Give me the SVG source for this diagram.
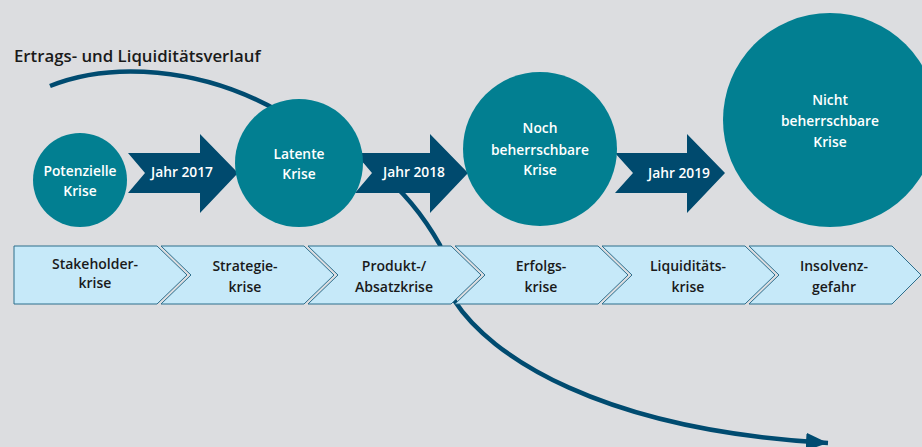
<svg xmlns="http://www.w3.org/2000/svg" width="922" height="447" viewBox="0 0 922 447">
<defs>
<marker id="ah" markerUnits="userSpaceOnUse" markerWidth="24" markerHeight="18" refX="22" refY="9" orient="auto">
<path d="M0,0 L22,9 L0,18 Z" fill="#004b70"/>
</marker>
<style>
.bg{fill:#dcdde0}
.circ{fill:#027f91}
.arr{fill:#004a6e}
.chev{fill:#c6e9f9;stroke:#2d6e8c;stroke-width:1}
.curve{fill:none;stroke:#004b70;stroke-width:4.5}
.wt{fill:#ffffff;font-family:"Open Sans","Liberation Sans",sans-serif;font-weight:600;font-size:13.8px;text-anchor:middle}
.bt{fill:#1a1a1a;font-family:"Open Sans","Liberation Sans",sans-serif;font-weight:600;font-size:14px;text-anchor:middle}
.title{fill:#1a1a1a;font-family:"Open Sans","Liberation Sans",sans-serif;font-weight:600;font-size:16.8px}
</style>
</defs>
<rect class="bg" x="0" y="0" width="922" height="447"/>
<text class="title" x="14" y="62">Ertrags- und Liquiditätsverlauf</text>
<g id="connectors">
<path class="curve" d="M50,86 C110,62 200,66 280,112 C340,146 395,165 440,245 L452,290 L454,300"/>
<path class="curve" d="M454,300 C490,356 600,430 828,443" marker-end="url(#ah)"/>
</g>
<g id="phases">
<g id="ph1"><path class="chev" d="M14,246 L157,246 L187,275 L157,304 L14,304 Z"/><text class="bt" x="95" y="269">Stakeholder-</text><text class="bt" x="95" y="288">krise</text></g>
<g id="ph2"><path class="chev" d="M161,246 L304,246 L334,275 L304,304 L161,304 L191,275 Z"/><text class="bt" x="245" y="271">Strategie-</text><text class="bt" x="245" y="292">krise</text></g>
<g id="ph3"><path class="chev" d="M308,246 L451,246 L481,275 L451,304 L308,304 L338,275 Z"/><text class="bt" x="394" y="271">Produkt-/</text><text class="bt" x="394" y="292">Absatzkrise</text></g>
<g id="ph4"><path class="chev" d="M455,246 L598,246 L628,275 L598,304 L455,304 L485,275 Z"/><text class="bt" x="541" y="271">Erfolgs-</text><text class="bt" x="541" y="292">krise</text></g>
<g id="ph5"><path class="chev" d="M602,246 L745,246 L775,275 L745,304 L602,304 L632,275 Z"/><text class="bt" x="688" y="271">Liquiditäts-</text><text class="bt" x="688" y="292">krise</text></g>
<g id="ph6"><path class="chev" d="M749,246 L892,246 L921,275 L892,304 L749,304 L779,275 Z"/><text class="bt" x="834" y="271">Insolvenz-</text><text class="bt" x="834" y="292">gefahr</text></g>
</g>
<g id="arrow2017"><path class="arr" d="M128,153 L200,153 L200,134 L238,173 L200,213 L200,193 L128,193 L145,173 Z"/><text class="wt" x="182" y="177">Jahr 2017</text></g>
<g id="arrow2018"><path class="arr" d="M355,153 L430,153 L430,134 L468,173 L430,213 L430,193 L355,193 L372,173 Z"/><text class="wt" x="414" y="177">Jahr 2018</text></g>
<g id="arrow2019"><path class="arr" d="M615,153 L687,153 L687,134 L725,173 L687,213 L687,193 L615,193 L633,173 Z"/><text class="wt" x="679" y="178">Jahr 2019</text></g>
<g id="c1"><circle class="circ" cx="80" cy="180" r="47"/><text class="wt" x="80" y="176">Potenzielle</text><text class="wt" x="80" y="196">Krise</text></g>
<g id="c2"><circle class="circ" cx="299" cy="163" r="64"/><text class="wt" x="299" y="159">Latente</text><text class="wt" x="299" y="179">Krise</text></g>
<g id="c3"><circle class="circ" cx="540" cy="149" r="77"/><text class="wt" x="540" y="133">Noch</text><text class="wt" x="540" y="155">beherrschbare</text><text class="wt" x="540" y="175">Krise</text></g>
<g id="c4"><circle class="circ" cx="830" cy="120" r="107"/><text class="wt" x="830" y="105">Nicht</text><text class="wt" x="830" y="126">beherrschbare</text><text class="wt" x="830" y="147">Krise</text></g>
</svg>
